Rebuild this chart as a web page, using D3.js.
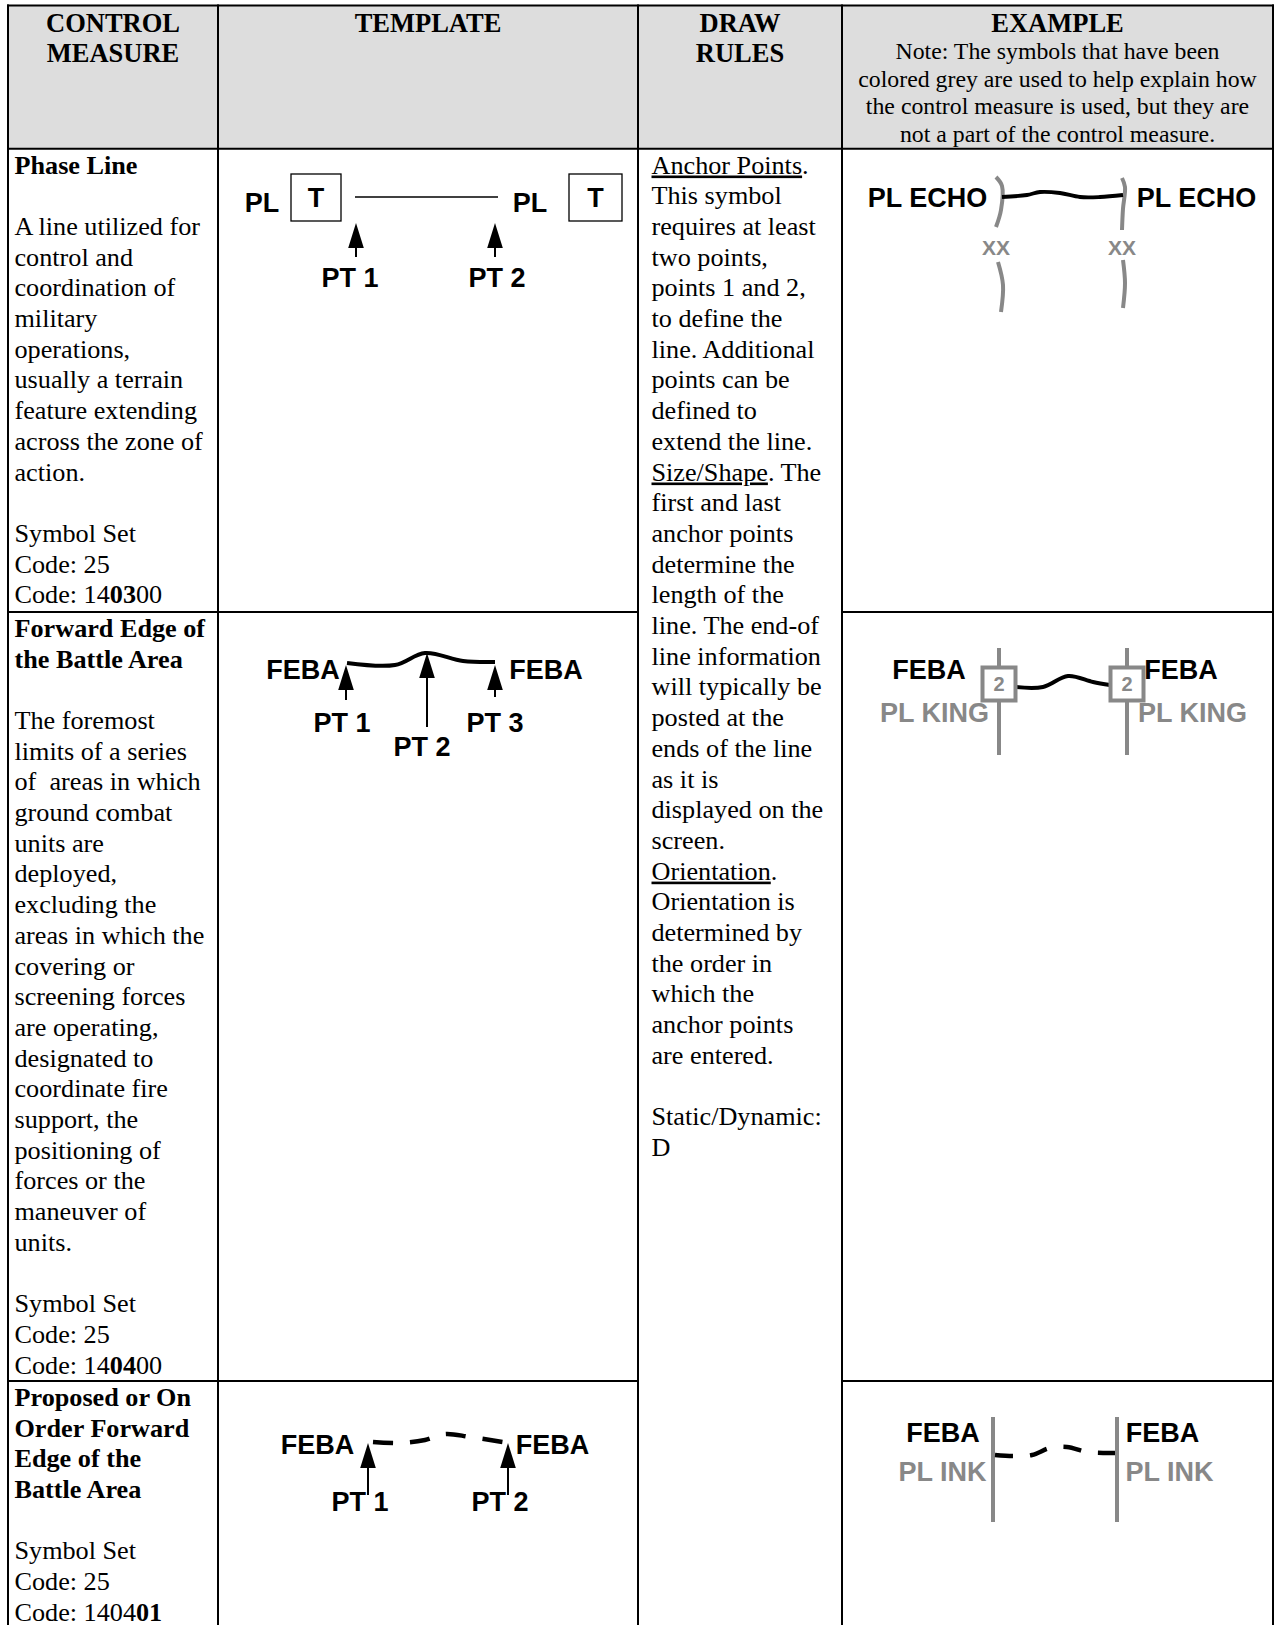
<!DOCTYPE html>
<html><head><meta charset="utf-8">
<script src="https://cdn.jsdelivr.net/npm/d3@7"></script>
<style>body{margin:0;background:#fff}svg{display:block}text{white-space:pre}</style>
</head><body>
<svg id="c" width="1275" height="1625"></svg>
<script>
// ---------- DATA ----------
const headers = [["CONTROL","MEASURE"],["TEMPLATE"],["DRAW","RULES"],["EXAMPLE"]];
const exampleNote = ["Note: The symbols that have been","colored grey are used to help explain how","the control measure is used, but they are","not a part of the control measure."];
const phaseLineText = ["**Phase Line**","","A line utilized for","control and","coordination of","military","operations,","usually a terrain","feature extending","across the zone of","action.","","Symbol Set","Code: 25","Code: 14**03**00"];
const febaText = ["**Forward Edge of**","**the Battle Area**","","The foremost","limits of a series","of  areas in which","ground combat","units are","deployed,","excluding the","areas in which the","covering or","screening forces","are operating,","designated to","coordinate fire","support, the","positioning of","forces or the","maneuver of","units.","","Symbol Set","Code: 25","Code: 14**04**00"];
const proposedText = ["**Proposed or On**","**Order Forward**","**Edge of the**","**Battle Area**","","Symbol Set","Code: 25","Code: 1404**01**"];
const drawRulesText = ["__Anchor Points__.","This symbol","requires at least","two points,","points 1 and 2,","to define the","line. Additional","points can be","defined to","extend the line.","__Size/Shape__. The","first and last","anchor points","determine the","length of the","line. The end-of","line information","will typically be","posted at the","ends of the line","as it is","displayed on the","screen.","__Orientation__.","Orientation is","determined by","the order in","which the","anchor points","are entered.","","Static/Dynamic:","D"];

// Template: Phase Line (cell-local units)
const plTplLabels = [{t:"PL",x:44,y:62.8},{t:"PL",x:312,y:62.8}];
const plTplBoxes = [{x:73,y:25.3,w:50,h:47,t:"T"},{x:351,y:25.3,w:53,h:47,t:"T"}];
const plTplLine = [[137,48.3],[280,48.3]];
const plTplArrows = [{x:138,tip:74.3,bot:108.3},{x:277,tip:74.3,bot:108.3}];
const plTplPts = [{t:"PT 1",x:132,y:137.8},{t:"PT 2",x:279,y:137.8}];
// Example: Phase Line
const plExLabels = [{t:"PL ECHO",x:85.5,y:57.8},{t:"PL ECHO",x:354.5,y:57.8}];
const plExBrackets = [
  [[154,28.3],[160,37.3],[159,61.3],[154,78.3]],
  [[156,113.3],[161,136.3],[159,163.3]],
  [[280,29.3],[283,38.3],[281,60],[280,81.3]],
  [[281,111.3],[283,134.3],[281,159.3]]];
const plExXX = [{t:"XX",x:154,y:106},{t:"XX",x:280,y:106}];
const plExLine = [[160,48.3],[185,46.3],[198,43.3],[218,44.3],[238,48.3],[258,48.3],[281,46.3]];
// Template: FEBA
const febaTplLabels = [{t:"FEBA",x:85,y:66.5},{t:"FEBA",x:328,y:66.5}];
const febaTplLine = [[129,51],[177,53],[207,41],[245,49],[277,50]];
const febaTplArrows = [{x:128,tip:53,bot:88},{x:209,tip:41,bot:115},{x:277,tip:53,bot:85}];
const febaTplPts = [{t:"PT 1",x:124,y:119.5},{t:"PT 2",x:204,y:143.5},{t:"PT 3",x:277,y:119.5}];
// Example: FEBA
const febaExGrey = [{x:157,y1:36,y2:143},{x:285,y1:36,y2:143}];
const febaExBoxes = [{x:157,y:72,s:33,t:"2"},{x:285,y:72,s:33,t:"2"}];
const febaExBlack = [{t:"FEBA",x:87,y:66.5},{t:"FEBA",x:339,y:66.5}];
const febaExGreyLbl = [{t:"PL KING",x:92.5,y:109.5},{t:"PL KING",x:350.5,y:109.5}];
const febaExLine = [[173,75],[201,75],[226,64],[251,70],[268,73]];
// Template: Proposed FEBA
const propTplLabels = [{t:"FEBA",x:99.5,y:72.5},{t:"FEBA",x:334.5,y:72.5}];
const propTplLine = [[155,61],[182,62],[207,59],[227,53],[252,56],[285,61]];
const propTplArrows = [{x:150,tip:62,bot:114},{x:290,tip:62,bot:114}];
const propTplPts = [{t:"PT 1",x:142,y:129.5},{t:"PT 2",x:282,y:129.5}];
// Example: Proposed FEBA
const propExGrey = [{x:151,y1:36,y2:141},{x:275,y1:36,y2:141}];
const propExBlack = [{t:"FEBA",x:101,y:60.5},{t:"FEBA",x:320.5,y:60.5}];
const propExGreyLbl = [{t:"PL INK",x:100.5,y:99.5},{t:"PL INK",x:327.5,y:99.5}];
const propExLine = [[153,74],[171,75],[190,74],[208,67],[225,66],[245,71],[261,72],[273,72]];

// ---------- LAYOUT ----------
const L = {cols:[8,218,638,842,1273], top:5.5, head:148.7, rows:[148.7,612,1381], bottom:1625, pitch:30.7, firstBase:24.8};
const SERIF = "'Liberation Serif','Times New Roman',serif";
const SANS = "'Liberation Sans',Arial,sans-serif";
const GREY = "#888888";
const BODY = 26.2, HEAD = 26.5, NOTE = 23.8, LBL = 27;
const svg = d3.select("#c");

svg.append("rect").attr("x",L.cols[0]).attr("y",L.top).attr("width",L.cols[4]-L.cols[0]).attr("height",L.head-L.top).attr("fill","#dddddd");

function rich(g, str, x, y, size, anchor, bold){
  const t = g.append("text").attr("x",x).attr("y",y).attr("font-family",SERIF).attr("font-size",size)
    .attr("text-anchor",anchor||"start").attr("fill","#000");
  if (bold) t.attr("font-weight","bold");
  str.split(/(\*\*[^*]+\*\*|__[^_]+__)/).filter(s=>s.length).forEach(s=>{
    const sp = t.append("tspan");
    if (s.startsWith("**")) sp.attr("font-weight","bold").text(s.slice(2,-2));
    else if (s.startsWith("__")) sp.attr("text-decoration","underline").text(s.slice(2,-2));
    else sp.text(s);
  });
}

// headers
const hdr = svg.append("g");
headers.forEach((lines,i)=>{
  const cx = (L.cols[i]+L.cols[i+1])/2;
  lines.forEach((ln,j)=>rich(hdr, ln, cx, 31.8+j*30.2, HEAD, "middle", true));
});
exampleNote.forEach((ln,j)=>rich(hdr, ln, (L.cols[3]+L.cols[4])/2, 59+j*27.6, NOTE, "middle", false));

// body text
const body = svg.append("g");
[phaseLineText, febaText, proposedText].forEach((lines,r)=>{
  lines.forEach((ln,j)=>{ if (ln) rich(body, ln, L.cols[0]+6.5, L.rows[r]+L.firstBase+j*L.pitch, BODY); });
});
drawRulesText.forEach((ln,j)=>{ if (ln) rich(body, ln, L.cols[2]+13.5, L.rows[0]+L.firstBase+j*L.pitch, BODY); });

// diagrams
function cell(col,row){
  const x0 = L.cols[col], y0 = L.rows[row];
  const w = L.cols[col+1]-x0, h = (row<2?L.rows[row+1]:L.bottom)-y0;
  return {g: svg.append("g"), sx: d3.scaleLinear().domain([0,w]).range([x0,x0+w]), sy: d3.scaleLinear().domain([0,h]).range([y0,y0+h])};
}
function labels(c, arr, size, color){
  c.g.selectAll(null).data(arr).join("text").attr("x",d=>c.sx(d.x)).attr("y",d=>c.sy(d.y))
    .attr("text-anchor","middle").attr("font-family",SANS).attr("font-weight","bold").attr("font-size",size)
    .attr("fill",color).text(d=>d.t);
}
function arrows(c, arr){
  c.g.selectAll(null).data(arr).join("line").attr("x1",d=>c.sx(d.x)).attr("x2",d=>c.sx(d.x))
    .attr("y1",d=>c.sy(d.tip)+18).attr("y2",d=>c.sy(d.bot)).attr("stroke","#000").attr("stroke-width",2);
  c.g.selectAll(null).data(arr).join("path")
    .attr("d",d=>{const X=c.sx(d.x),T=c.sy(d.tip);return `M${X},${T}L${X-7.8},${T+25}L${X+7.8},${T+25}Z`;})
    .attr("fill","#000");
}
function curve(c, pts, width, color, dash, k){
  const line = d3.line().x(d=>c.sx(d[0])).y(d=>c.sy(d[1])).curve(k||d3.curveCatmullRom.alpha(0.5));
  const p = c.g.append("path").attr("d",line(pts)).attr("fill","none").attr("stroke",color).attr("stroke-width",width).attr("stroke-linecap","butt");
  if (dash) p.attr("stroke-dasharray",dash);
}
function vlines(c, arr){
  c.g.selectAll(null).data(arr).join("line").attr("x1",d=>c.sx(d.x)).attr("x2",d=>c.sx(d.x))
    .attr("y1",d=>c.sy(d.y1)).attr("y2",d=>c.sy(d.y2)).attr("stroke",GREY).attr("stroke-width",4);
}

// Phase line template
let c = cell(1,0);
labels(c, plTplLabels, LBL, "#000");
c.g.selectAll(null).data(plTplBoxes).join("rect").attr("x",d=>c.sx(d.x)).attr("y",d=>c.sy(d.y))
  .attr("width",d=>c.sx(d.x+d.w)-c.sx(d.x)).attr("height",d=>c.sy(d.y+d.h)-c.sy(d.y))
  .attr("fill","none").attr("stroke","#000").attr("stroke-width",1.3);
labels(c, plTplBoxes.map(d=>({t:d.t,x:d.x+d.w/2,y:d.y+d.h/2+9.3})), LBL, "#000");
curve(c, plTplLine, 1.4, "#000", null, d3.curveLinear);
arrows(c, plTplArrows);
labels(c, plTplPts, LBL, "#000");

// Phase line example
c = cell(3,0);
plExBrackets.forEach(b=>curve(c, b, 4, GREY));
labels(c, plExXX, 21, GREY);
curve(c, plExLine, 3.8, "#000");
labels(c, plExLabels, LBL, "#000");

// FEBA template
c = cell(1,1);
labels(c, febaTplLabels, LBL, "#000");
curve(c, febaTplLine, 4, "#000");
arrows(c, febaTplArrows);
labels(c, febaTplPts, LBL, "#000");

// FEBA example
c = cell(3,1);
vlines(c, febaExGrey);
curve(c, febaExLine, 4, "#000");
c.g.selectAll(null).data(febaExBoxes).join("rect").attr("x",d=>c.sx(d.x-d.s/2)).attr("y",d=>c.sy(d.y-d.s/2))
  .attr("width",d=>d.s).attr("height",d=>d.s).attr("fill","#fff").attr("stroke",GREY).attr("stroke-width",4);
labels(c, febaExBoxes.map(d=>({t:d.t,x:d.x,y:d.y+7.3})), 20, GREY);
labels(c, febaExBlack, LBL, "#000");
labels(c, febaExGreyLbl, LBL, GREY);

// Proposed FEBA template
c = cell(1,2);
labels(c, propTplLabels, LBL, "#000");
curve(c, propTplLine, 4.5, "#000", "20 17");
labels(c, propTplPts, LBL, "#000");
arrows(c, propTplArrows);

// Proposed FEBA example
c = cell(3,2);
vlines(c, propExGrey);
curve(c, propExLine, 4.5, "#000", "18 17");
labels(c, propExBlack, LBL, "#000");
labels(c, propExGreyLbl, LBL, GREY);

// table borders
const grid = svg.append("g").attr("stroke","#000").attr("stroke-width",2);
L.cols.forEach(x=>grid.append("line").attr("x1",x).attr("x2",x).attr("y1",L.top-1).attr("y2",L.bottom));
[L.top, L.head].forEach(y=>grid.append("line").attr("x1",L.cols[0]-1).attr("x2",L.cols[4]+1).attr("y1",y).attr("y2",y));
L.rows.slice(1).forEach(y=>{
  grid.append("line").attr("x1",L.cols[0]).attr("x2",L.cols[2]).attr("y1",y).attr("y2",y);
  grid.append("line").attr("x1",L.cols[3]).attr("x2",L.cols[4]).attr("y1",y).attr("y2",y);
});
</script>
</body></html>
